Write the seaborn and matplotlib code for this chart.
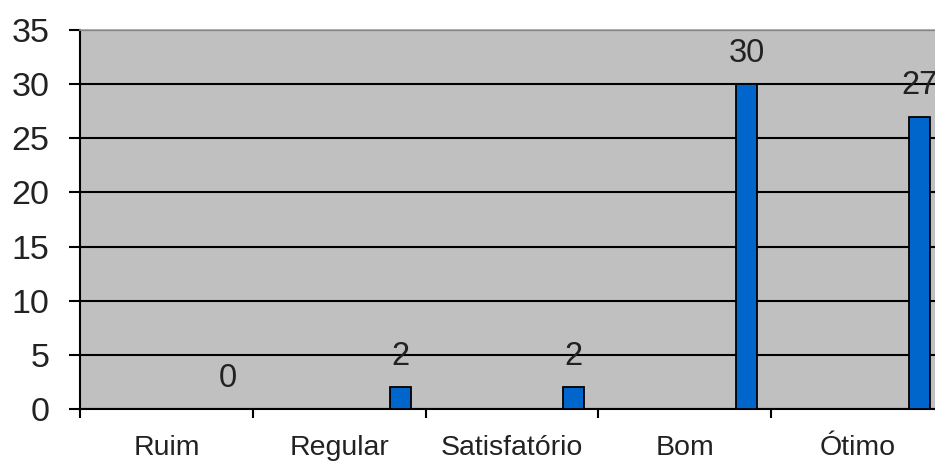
import pandas as pd
import seaborn as sns
import matplotlib.pyplot as plt
from matplotlib.ticker import FixedLocator

sns.set_style('white')
plt.rcParams['font.family'] = ['Liberation Sans', 'DejaVu Sans']

# data
categorias = ['Ruim', 'Regular', 'Satisfatório', 'Bom', 'Ótimo']
respostas = [0, 2, 2, 30, 27]
df = pd.DataFrame({'cat': categorias, 'n': respostas})

fig = plt.figure(figsize=(9.35, 4.62), dpi=100)
# plot area runs past the right edge like the source picture
ax = fig.add_axes([80/935, (462-409)/462, (944-80)/935, (409-30)/462])
ax.set_facecolor('#c0c0c0')

sns.barplot(data=df, x='cat', y='n', color='#0066cc', width=0.122,
            edgecolor='black', linewidth=1.3, saturation=1, ax=ax, zorder=3)

# bars sit towards the right of each category slot
for p in ax.patches:
    p.set_x(p.get_x() + 0.357)

ax.bar_label(ax.containers[0], padding=11, fontsize=23.5, color='#222222')

ax.set_xlim(-0.5, 4.5)
ax.set_ylim(0, 35)
ax.set_yticks(range(0, 36, 5))
ax.yaxis.grid(True, color='black', lw=1.5)
ax.set_axisbelow(True)

ax.xaxis.set_major_locator(FixedLocator([-0.5, 0.5, 1.5, 2.5, 3.5]))
ax.xaxis.set_minor_locator(FixedLocator(range(5)))
ax.set_xticklabels([], minor=False)
ax.set_xticklabels(categorias, minor=True)
ax.tick_params(axis='x', which='major', direction='out', length=6.5, width=1.5, color='black', bottom=True)
ax.tick_params(axis='x', which='minor', length=0, pad=19, labelsize=20.5, labelcolor='#222222')
ax.tick_params(axis='y', direction='out', length=8, width=1.5, color='black', left=True,
               pad=14, labelsize=24.5, labelcolor='#222222')

ax.set_xlabel('')
ax.set_ylabel('')
for s in ['left', 'bottom']:
    ax.spines[s].set_color('black')
    ax.spines[s].set_linewidth(1.5)
ax.spines['top'].set_color('#a0a0a0')
ax.spines['top'].set_linewidth(1.2)
ax.spines['right'].set_visible(False)

fig.savefig('out.png', dpi=100)
